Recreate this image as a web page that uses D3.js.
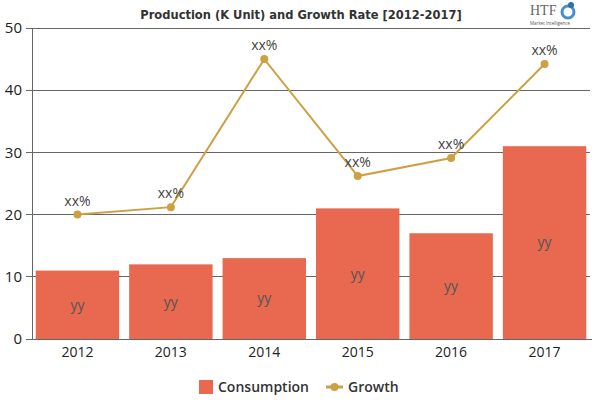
<!DOCTYPE html>
<html><head><meta charset="utf-8">
<script src="https://cdn.jsdelivr.net/npm/d3@7"></script>
<style>body{margin:0;background:#fff}svg{display:block}</style>
</head><body>
<svg id="c" width="600" height="400"></svg>
<script>
const years = ["2012","2013","2014","2015","2016","2017"];
const consumption = [11, 12, 13, 21, 17, 31];
const growth = [20, 21.2, 45, 26.2, 29.1, 44.2];
const barLabels = ["yy","yy","yy","yy","yy","yy"];
const growthLabels = ["xx%","xx%","xx%","xx%","xx%","xx%"];
const yTicks = [0, 10, 20, 30, 40, 50];
const titleText = "Production (K Unit) and Growth Rate [2012-2017]";
const legendNames = ["Consumption", "Growth"];

const svg = d3.select("#c");
const barColor = "#E8694F", lineColor = "#CCA145", font = "'Open Sans','Noto Sans',sans-serif";
const L = 32, R = 590, T = 28, B = 339;

const x = d3.scaleBand().domain(years).range([L, R]).paddingInner(0.107).paddingOuter(0.04);
const y = d3.scaleLinear().domain([0, 50]).range([B, T]);

// gridlines
svg.append("g").selectAll("line").data(yTicks).join("line")
  .attr("x1", L - 6).attr("x2", R).attr("y1", d => y(d)).attr("y2", d => y(d))
  .attr("stroke", "#666").attr("stroke-width", 1).attr("shape-rendering","crispEdges");

// y axis line
svg.append("line").attr("x1", L).attr("x2", L).attr("y1", T).attr("y2", B)
  .attr("stroke", "#666").attr("shape-rendering","crispEdges");

// y labels
svg.append("g").selectAll("text").data(yTicks).join("text")
  .attr("x", 22).attr("y", d => y(d)).attr("dy", "0.35em").attr("text-anchor", "end")
  .attr("font-family", font).attr("font-size", 15).attr("fill", "#222").text(d => d);

// bars
svg.append("g").selectAll("rect").data(consumption).join("rect")
  .attr("x", (d, i) => x(years[i])).attr("width", x.bandwidth())
  .attr("y", d => y(d)).attr("height", d => B - y(d)).attr("fill", barColor);

// x axis baseline
svg.append("line").attr("x1", L - 6).attr("x2", R + 2).attr("y1", B).attr("y2", B)
  .attr("stroke", "#666").attr("shape-rendering","crispEdges");

// x labels
svg.append("g").selectAll("text").data(years).join("text")
  .attr("x", d => x(d) + x.bandwidth() / 2).attr("y", 357).attr("text-anchor", "middle")
  .attr("font-family", font).attr("font-size", 14).attr("fill", "#222").text(d => d);

// bar labels
svg.append("g").selectAll("text").data(consumption).join("text")
  .attr("x", (d, i) => x(years[i]) + x.bandwidth() / 2)
  .attr("y", d => (y(d) + B) / 2).attr("dy", "0.35em").attr("text-anchor", "middle")
  .attr("font-family", font).attr("font-size", 14).attr("fill", "#555")
  .text((d, i) => barLabels[i]);

// line
const cx = (i) => x(years[i]) + x.bandwidth() / 2;
svg.append("path").datum(growth)
  .attr("d", d3.line().x((d, i) => cx(i)).y(d => y(d)))
  .attr("fill", "none").attr("stroke", lineColor).attr("stroke-width", 2);
svg.append("g").selectAll("circle").data(growth).join("circle")
  .attr("cx", (d, i) => cx(i)).attr("cy", d => y(d)).attr("r", 4).attr("fill", lineColor);
svg.append("g").selectAll("text").data(growth).join("text")
  .attr("x", (d, i) => cx(i)).attr("y", d => y(d) - 9).attr("text-anchor", "middle")
  .attr("font-family", font).attr("font-size", 14).attr("fill", "#444")
  .text((d, i) => growthLabels[i]);

// title (font size fitted to the reference width, no glyph stretching)
const title = svg.append("text").attr("x", 301).attr("y", 19).attr("text-anchor", "middle")
  .attr("font-family", "'Liberation Sans Narrow','DejaVu Sans Condensed',sans-serif")
  .attr("font-weight", "bold").attr("font-size", 16).attr("fill", "#333").text(titleText);
const tw = title.node().getComputedTextLength();
if (tw > 0) title.attr("font-size", Math.min(18, 16 * 322 / tw));

// logo
const logo = svg.append("g");
logo.append("text").attr("x", 530).attr("y", 15).attr("font-family", "'Liberation Serif',serif")
  .attr("font-size", 14).attr("fill", "#666").text("HTF");
logo.append("circle").attr("cx", 568).attr("cy", 12).attr("r", 6).attr("fill", "none")
  .attr("stroke", "#4a8fc9").attr("stroke-width", 3);
logo.append("circle").attr("cx", 571).attr("cy", 5).attr("r", 3).attr("fill", "#2f6faa");
logo.append("text").attr("x", 530).attr("y", 25).attr("font-family", font)
  .attr("font-size", 4.5).attr("fill", "#555").text("Market Intelligence");

// legend
const lg = svg.append("g");
lg.append("rect").attr("x", 199).attr("y", 380).attr("width", 14).attr("height", 14).attr("fill", barColor);
lg.append("text").attr("x", 218).attr("y", 392).attr("font-family", font).attr("font-weight", 600)
  .attr("font-size", 14).attr("fill", "#333").text(legendNames[0]);
lg.append("line").attr("x1", 326).attr("x2", 343).attr("y1", 387).attr("y2", 387)
  .attr("stroke", lineColor).attr("stroke-width", 3);
lg.append("circle").attr("cx", 334.5).attr("cy", 387).attr("r", 4).attr("fill", lineColor);
lg.append("text").attr("x", 348).attr("y", 392).attr("font-family", font).attr("font-weight", 600)
  .attr("font-size", 14).attr("fill", "#333").text(legendNames[1]);
</script>
</body></html>
